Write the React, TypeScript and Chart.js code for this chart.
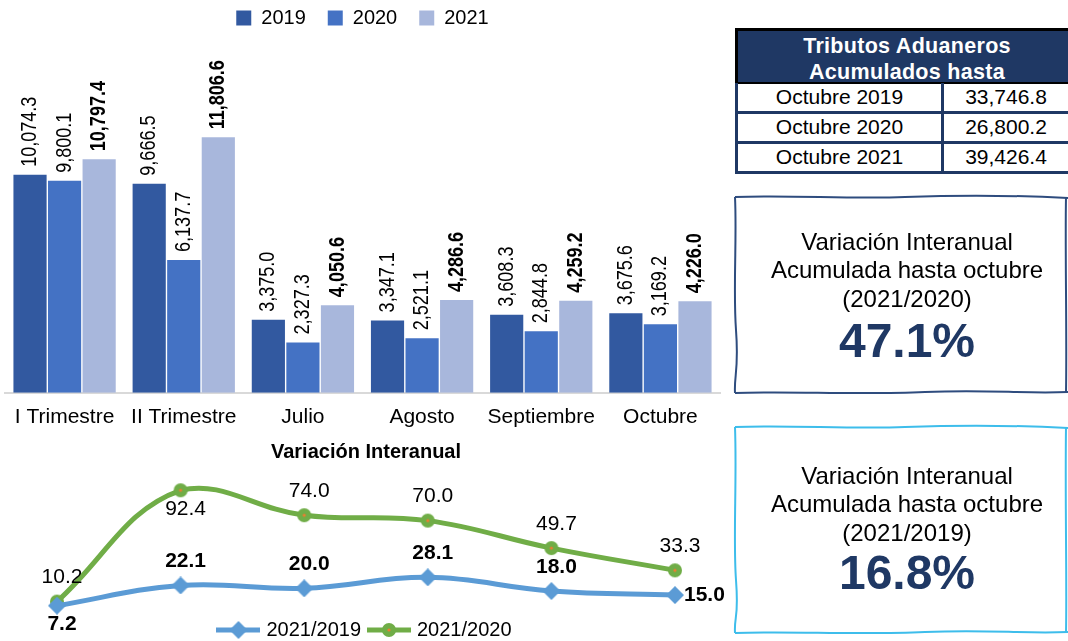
import React, { useEffect, useRef } from "react";
import { Chart, registerables } from "chart.js";

Chart.register(...registerables);

const FONT = '"Liberation Sans", Arial, Helvetica, sans-serif';

// ---------- Data ----------
const categories = ["I Trimestre", "II Trimestre", "Julio", "Agosto", "Septiembre", "Octubre"];
const yearLabels = ["2019", "2020", "2021"];
const values2019 = [10074.3, 9666.5, 3375.0, 3347.1, 3608.3, 3675.6];
const values2020 = [9800.1, 6137.7, 2327.3, 2521.1, 2844.8, 3169.2];
const values2021 = [10797.4, 11806.6, 4050.6, 4286.6, 4259.2, 4226.0];

const variationTitle = "Variación Interanual";
const variationSeries = ["2021/2019", "2021/2020"];
const var2021vs2019 = [7.2, 22.1, 20.0, 28.1, 18.0, 15.0];
const var2021vs2020 = [10.2, 92.4, 74.0, 70.0, 49.7, 33.3];

const tableTitle = ["Tributos Aduaneros", "Acumulados hasta"];
const tableRowLabels = ["Octubre 2019", "Octubre 2020", "Octubre 2021"];
const tableRowValues = [33746.8, 26800.2, 39426.4];

const boxLines = ["Variación Interanual", "Acumulada hasta octubre"];
const boxPeriods = ["(2021/2020)", "(2021/2019)"];
const boxValues = [47.1, 16.8];

// label placement (style only)
const pos2019 = ["below", "above", "above", "above", "above", "right"];
const pos2020 = ["above", "below", "above", "above", "above", "above"];

// ---------- Helpers ----------
const fmt1 = (v: number) =>
  v.toLocaleString("en-US", { minimumFractionDigits: 1, maximumFractionDigits: 1 });

const BAR_COLORS = ["#3259A0", "#4472C4", "#A8B7DC"];
const GREEN = "#70AD47";
const BLUE = "#5B9BD5";
const NAVY = "#1F3864";

function circleMarker(size: number) {
  const c = document.createElement("canvas");
  c.width = size;
  c.height = size;
  const g = c.getContext("2d")!;
  g.fillStyle = GREEN;
  g.beginPath();
  g.arc(size / 2, size / 2, size / 2 - 1, 0, Math.PI * 2);
  g.fill();
  g.fillStyle = "#ED7D31";
  g.beginPath();
  g.arc(size / 2, size / 2, 1.6, 0, Math.PI * 2);
  g.fill();
  return c;
}

function diamondMarker(size: number) {
  const c = document.createElement("canvas");
  c.width = size;
  c.height = size;
  const g = c.getContext("2d")!;
  const h = size / 2;
  g.fillStyle = BLUE;
  g.beginPath();
  g.moveTo(h, 0);
  g.lineTo(size, h);
  g.lineTo(h, size);
  g.lineTo(0, h);
  g.closePath();
  g.fill();
  return c;
}

function legendImage(color: string, marker: HTMLCanvasElement) {
  const w = 44;
  const h = 18;
  const c = document.createElement("canvas");
  c.width = w;
  c.height = h;
  const g = c.getContext("2d")!;
  g.strokeStyle = color;
  g.lineWidth = 5;
  g.beginPath();
  g.moveTo(0, h / 2);
  g.lineTo(w, h / 2);
  g.stroke();
  g.drawImage(marker, (w - marker.width) / 2, (h - marker.height) / 2);
  return c;
}

const barLabelPlugin = {
  id: "barLabels",
  afterDatasetsDraw(chart: any) {
    const ctx = chart.ctx;
    chart.data.datasets.forEach((ds: any, di: number) => {
      const meta = chart.getDatasetMeta(di);
      meta.data.forEach((bar: any, i: number) => {
        const text = fmt1(ds.data[i]);
        ctx.save();
        ctx.translate(bar.x, bar.y - 8);
        ctx.rotate(-Math.PI / 2);
        ctx.scale(0.82, 1);
        ctx.font = `${di === 2 ? "bold " : ""}22px ${FONT}`;
        ctx.fillStyle = "#000";
        ctx.textAlign = "left";
        ctx.textBaseline = "middle";
        ctx.fillText(text, 0, 0);
        ctx.restore();
      });
    });
  },
};

const lineLabelPlugin = {
  id: "lineLabels",
  afterDatasetsDraw(chart: any) {
    const ctx = chart.ctx;
    const positions = [pos2019, pos2020];
    chart.data.datasets.forEach((ds: any, di: number) => {
      const meta = chart.getDatasetMeta(di);
      meta.data.forEach((pt: any, i: number) => {
        const pos = positions[di][i];
        const text = Number(ds.data[i]).toFixed(1);
        ctx.save();
        ctx.font = `${di === 0 ? "bold " : ""}21px ${FONT}`;
        ctx.fillStyle = "#000";
        ctx.textBaseline = "middle";
        if (pos === "right") {
          ctx.textAlign = "left";
          ctx.fillText(text, pt.x + 9, pt.y);
        } else {
          ctx.textAlign = "center";
          const dy = pos === "above" ? -24 : 19;
          ctx.fillText(text, pt.x + 5, pt.y + dy);
        }
        ctx.restore();
      });
    });
  },
};

// ---------- Components ----------
function BarChart() {
  const ref = useRef<HTMLCanvasElement | null>(null);
  useEffect(() => {
    if (!ref.current) return;
    const chart = new Chart(ref.current, {
      type: "bar",
      data: {
        labels: categories,
        datasets: [values2019, values2020, values2021].map((d, i) => ({
          label: yearLabels[i],
          data: d,
          backgroundColor: BAR_COLORS[i],
          categoryPercentage: 0.87,
          barPercentage: 0.96,
        })),
      },
      options: {
        responsive: false,
        animation: false,
        layout: { padding: { left: 5, right: 5, top: 0, bottom: 11 } },
        plugins: {
          legend: {
            position: "top",
            labels: {
              boxWidth: 15,
              boxHeight: 15,
              padding: 22,
              color: "#000",
              font: { size: 20, family: FONT },
            },
          },
          tooltip: { enabled: false },
        },
        scales: {
          x: {
            grid: { display: false, drawTicks: false },
            border: { color: "#D9D9D9", width: 2 },
            ticks: {
              color: "#000",
              font: { size: 21, family: FONT },
              padding: 12,
              maxRotation: 0,
              autoSkip: false,
            },
          },
          y: { display: false, min: 0, max: 16400 },
        },
      },
      plugins: [barLabelPlugin],
    } as any);
    return () => chart.destroy();
  }, []);
  return (
    <canvas
      ref={ref}
      width={725}
      height={467}
      style={{ position: "absolute", left: 0, top: -14, width: 725, height: 467 }}
    />
  );
}

function LineChart() {
  const ref = useRef<HTMLCanvasElement | null>(null);
  useEffect(() => {
    if (!ref.current) return;
    const diamond = diamondMarker(18);
    const circle = circleMarker(16);
    const legendImgs = [legendImage(BLUE, diamond), legendImage(GREEN, circle)];
    const chart = new Chart(ref.current, {
      type: "line",
      data: {
        labels: categories,
        datasets: [
          {
            label: variationSeries[0],
            data: var2021vs2019,
            borderColor: BLUE,
            backgroundColor: BLUE,
            borderWidth: 5,
            pointStyle: diamond,
            pointRadius: 9,
            tension: 0.4,
            clip: false,
          },
          {
            label: variationSeries[1],
            data: var2021vs2020,
            borderColor: GREEN,
            backgroundColor: GREEN,
            borderWidth: 5,
            pointStyle: circle,
            pointRadius: 8,
            tension: 0.4,
            clip: false,
          },
        ],
      },
      options: {
        responsive: false,
        animation: false,
        layout: { padding: { left: 57, right: 80, top: 0, bottom: 0 } },
        plugins: {
          title: {
            display: true,
            text: variationTitle,
            color: "#000",
            font: { size: 20, weight: "bold", family: FONT },
            padding: { top: 0, bottom: 16 },
          },
          legend: {
            position: "bottom",
            labels: {
              usePointStyle: true,
              pointStyleWidth: 36,
              padding: 10,
              color: "#000",
              font: { size: 20, family: FONT },
              generateLabels: (c: any) => {
                const items = (Chart.defaults.plugins.legend.labels as any).generateLabels(c);
                return items.map((it: any, i: number) => ({ ...it, pointStyle: legendImgs[i] }));
              },
            },
          },
          tooltip: { enabled: false },
        },
        scales: {
          x: { display: false },
          y: { display: false, min: 4, max: 100 },
        },
      },
      plugins: [lineLabelPlugin],
    } as any);
    return () => chart.destroy();
  }, []);
  return (
    <canvas
      ref={ref}
      width={755}
      height={210}
      style={{ position: "absolute", left: 0, top: 440, width: 755, height: 210 }}
    />
  );
}

function TextLine({ text, cy, size, bold, color }: any) {
  const lh = Math.round(size * 1.2);
  return (
    <div
      style={{
        position: "absolute",
        left: 737,
        width: 340,
        top: cy - lh / 2,
        height: lh,
        lineHeight: `${lh}px`,
        fontSize: size,
        fontWeight: bold ? "bold" : "normal",
        color: color || "#000",
        textAlign: "center",
        whiteSpace: "nowrap",
      }}
    >
      {text}
    </div>
  );
}

function Table() {
  const rowTops = [83, 113, 143];
  return (
    <>
      <div
        style={{
          position: "absolute",
          left: 735,
          top: 28,
          width: 333,
          height: 56,
          boxSizing: "border-box",
          background: NAVY,
          borderTop: "3px solid #000",
          borderLeft: "3px solid #000",
          borderBottom: "2px solid #000",
          color: "#fff",
          fontWeight: "bold",
          fontSize: 21.5,
          letterSpacing: 0.3,
          lineHeight: "26px",
          textAlign: "center",
          paddingTop: 2,
          paddingLeft: 8,
        }}
      >
        <div>{tableTitle[0]}</div>
        <div>{tableTitle[1]}</div>
      </div>
      {tableRowLabels.map((lab, i) => (
        <React.Fragment key={lab}>
          <div
            style={{
              position: "absolute",
              left: 735,
              top: rowTops[i],
              width: 209,
              height: 31,
              boxSizing: "border-box",
              borderLeft: `3px solid ${NAVY}`,
              borderRight: `3px solid ${NAVY}`,
              borderBottom: `3px solid ${NAVY}`,
              fontSize: 21,
              lineHeight: "28px",
              textAlign: "center",
            }}
          >
            {lab}
          </div>
          <div
            style={{
              position: "absolute",
              left: 944,
              top: rowTops[i],
              width: 124,
              height: 31,
              boxSizing: "border-box",
              borderBottom: `3px solid ${NAVY}`,
              fontSize: 21,
              lineHeight: "28px",
              textAlign: "center",
            }}
          >
            {fmt1(tableRowValues[i])}
          </div>
        </React.Fragment>
      ))}
    </>
  );
}

function Borders() {
  return (
    <svg
      width={1068}
      height={641}
      style={{ position: "absolute", left: 0, top: 0, pointerEvents: "none" }}
    >
      <g fill="none" stroke="#2E4C7E" strokeWidth={2}>
        <path d="M735,197 C790,195 850,199 905,197 S1010,195 1068,198" />
        <path d="M735,197 C737,240 733,290 736,330 S734,375 735,393" />
        <path d="M735,393 C790,391 860,395 925,392 S1020,394 1068,392" />
        <path d="M1066,197 C1065,250 1067,330 1066,393" />
      </g>
      <g fill="none" stroke="#3DBDEB" strokeWidth={2}>
        <path d="M735,427 C790,425 850,429 905,427 S1010,425 1068,428" />
        <path d="M735,427 C737,480 733,540 736,580 S734,615 735,633" />
        <path d="M735,633 C790,631 860,635 925,632 S1020,634 1068,632" />
        <path d="M1066,427 C1065,500 1067,580 1066,633" />
      </g>
    </svg>
  );
}

export default function App() {
  return (
    <div
      style={{
        position: "absolute",
        left: 0,
        top: 0,
        width: 1068,
        height: 641,
        overflow: "hidden",
        background: "#fff",
        fontFamily: FONT,
      }}
    >
      <BarChart />
      <LineChart />
      <Table />
      <Borders />
      <TextLine text={boxLines[0]} cy={241} size={24} />
      <TextLine text={boxLines[1]} cy={269} size={24} />
      <TextLine text={boxPeriods[0]} cy={298} size={24} />
      <TextLine text={`${boxValues[0].toFixed(1)}%`} cy={341} size={48} bold color={NAVY} />
      <TextLine text={boxLines[0]} cy={475} size={24} />
      <TextLine text={boxLines[1]} cy={503} size={24} />
      <TextLine text={boxPeriods[1]} cy={532} size={24} />
      <TextLine text={`${boxValues[1].toFixed(1)}%`} cy={573} size={48} bold color={NAVY} />
    </div>
  );
}
